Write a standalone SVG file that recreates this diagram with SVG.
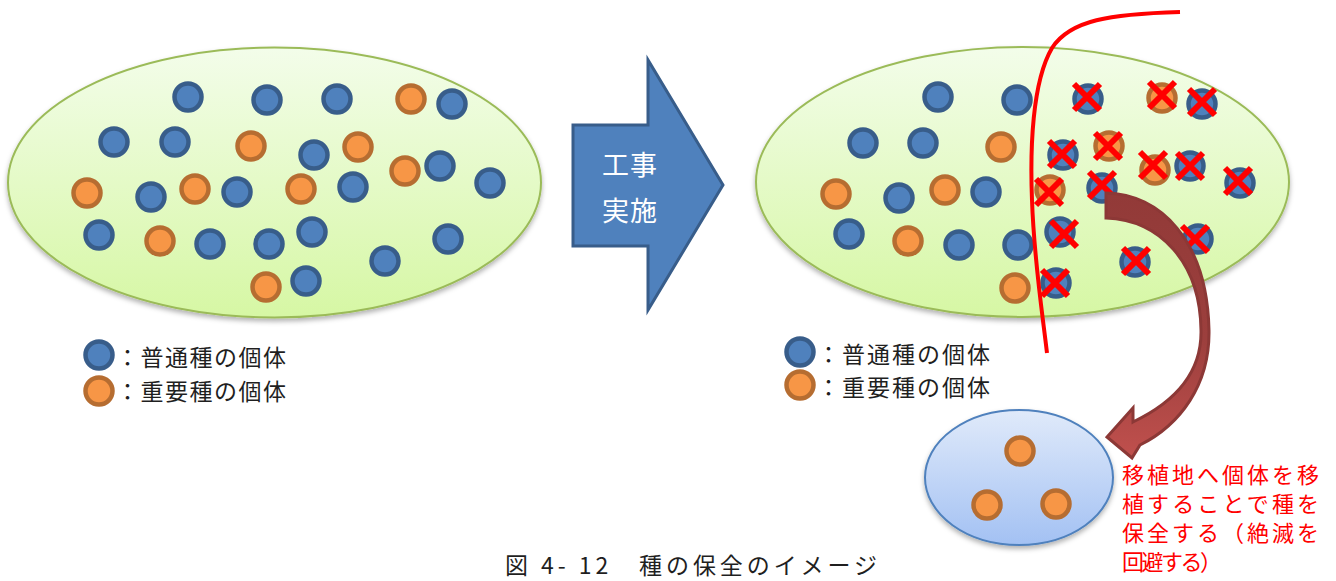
<svg xmlns="http://www.w3.org/2000/svg" width="1336" height="581" viewBox="0 0 1336 581">
<defs>
<linearGradient id="gGreen" x1="0" y1="0" x2="0" y2="1"><stop offset="0" stop-color="#F3FDEA"/><stop offset="1" stop-color="#D6F7A4"/></linearGradient>
<linearGradient id="gBlue" x1="0" y1="0" x2="0" y2="1"><stop offset="0" stop-color="#E0EAFA"/><stop offset="1" stop-color="#A3C1F3"/></linearGradient>
<linearGradient id="gBrown" x1="0" y1="0" x2="0" y2="1"><stop offset="0" stop-color="#923A38"/><stop offset="0.55" stop-color="#9C3F3D"/><stop offset="1" stop-color="#C0504D"/></linearGradient>
<filter id="sh" x="-5%" y="-5%" width="110%" height="115%"><feDropShadow dx="0" dy="3" stdDeviation="2.5" flood-color="#000" flood-opacity="0.3"/></filter>
</defs>
<style>
.b{fill:#4F81BD;stroke:#385D8A;stroke-width:4.5}
.o{fill:#F79646;stroke:#B66D31;stroke-width:4.5}
.x{stroke:#FF0000;stroke-width:6;fill:none}
.jp{font-family:"Noto Sans CJK JP","Noto Sans CJK SC",sans-serif}
.lg{font-size:23px;fill:#1F1F1F}
</style>

<g id="before">
<ellipse cx="274.5" cy="182.5" rx="266.5" ry="135" fill="url(#gGreen)" stroke="#9BBB59" stroke-width="2" filter="url(#sh)"/>
<g>
<circle class="b" cx="188" cy="97" r="13.5"/>
<circle class="b" cx="267" cy="100" r="13.5"/>
<circle class="b" cx="337" cy="99" r="13.5"/>
<circle class="o" cx="411" cy="99" r="13.5"/>
<circle class="b" cx="452" cy="104" r="13.5"/>
<circle class="b" cx="114" cy="142" r="13.5"/>
<circle class="b" cx="175" cy="142" r="13.5"/>
<circle class="o" cx="251" cy="146" r="13.5"/>
<circle class="b" cx="314" cy="155" r="13.5"/>
<circle class="o" cx="358" cy="147" r="13.5"/>
<circle class="o" cx="405" cy="171" r="13.5"/>
<circle class="b" cx="440" cy="166" r="13.5"/>
<circle class="b" cx="490" cy="183" r="13.5"/>
<circle class="o" cx="87" cy="193" r="13.5"/>
<circle class="b" cx="151" cy="197" r="13.5"/>
<circle class="o" cx="195" cy="189" r="13.5"/>
<circle class="b" cx="237" cy="192" r="13.5"/>
<circle class="o" cx="301" cy="189" r="13.5"/>
<circle class="b" cx="353" cy="187" r="13.5"/>
<circle class="b" cx="99" cy="235" r="13.5"/>
<circle class="o" cx="160" cy="241" r="13.5"/>
<circle class="b" cx="210" cy="244" r="13.5"/>
<circle class="b" cx="269" cy="244" r="13.5"/>
<circle class="b" cx="312" cy="232" r="13.5"/>
<circle class="b" cx="385" cy="261" r="13.5"/>
<circle class="b" cx="448" cy="239" r="13.5"/>
<circle class="o" cx="266" cy="287" r="13.5"/>
<circle class="b" cx="306" cy="281" r="13.5"/>
</g>
</g>

<g id="legend-left">
<circle class="b" cx="99" cy="355" r="13.5"/>
<circle class="o" cx="99" cy="391" r="13.5"/>
<text class="jp lg" x="116" y="366" textLength="170" lengthAdjust="spacing">：普通種の個体</text>
<text class="jp lg" x="116" y="400" textLength="170" lengthAdjust="spacing">：重要種の個体</text>
</g>

<g id="construction-arrow">
<path d="M573,125 L648,125 L648,60 L723,185 L648,310 L648,246 L573,246 Z" fill="#4F81BD" stroke="#385D8A" stroke-width="3" stroke-linejoin="miter"/>
<text class="jp" x="630" y="175" font-size="27" fill="#FFFFFF" text-anchor="middle" letter-spacing="1">工事</text>
<text class="jp" x="630" y="221" font-size="27" fill="#FFFFFF" text-anchor="middle" letter-spacing="1">実施</text>
</g>

<g id="after">
<ellipse cx="1022.5" cy="182" rx="266.5" ry="135" fill="url(#gGreen)" stroke="#9BBB59" stroke-width="2" filter="url(#sh)"/>
<g>
<circle class="b" cx="938" cy="97" r="13.5"/>
<circle class="b" cx="1017" cy="100" r="13.5"/>
<circle class="b" cx="863" cy="143" r="13.5"/>
<circle class="b" cx="923" cy="143" r="13.5"/>
<circle class="o" cx="1001" cy="147" r="13.5"/>
<circle class="o" cx="836" cy="194" r="13.5"/>
<circle class="b" cx="899" cy="198" r="13.5"/>
<circle class="o" cx="945" cy="190" r="13.5"/>
<circle class="b" cx="986" cy="192" r="13.5"/>
<circle class="b" cx="849" cy="234" r="13.5"/>
<circle class="o" cx="908" cy="241" r="13.5"/>
<circle class="b" cx="959" cy="245" r="13.5"/>
<circle class="b" cx="1018" cy="245" r="13.5"/>
<circle class="o" cx="1015" cy="288" r="13.5"/>
<circle class="b" cx="1088" cy="99" r="13.5"/>
<circle class="o" cx="1162" cy="98" r="13.5"/>
<circle class="b" cx="1202" cy="104" r="13.5"/>
<circle class="b" cx="1063" cy="155" r="13.5"/>
<circle class="o" cx="1109" cy="146" r="13.5"/>
<circle class="o" cx="1155" cy="170" r="13.5"/>
<circle class="b" cx="1190" cy="166" r="13.5"/>
<circle class="b" cx="1240" cy="183" r="13.5"/>
<circle class="o" cx="1050" cy="190" r="13.5"/>
<circle class="b" cx="1102" cy="188" r="13.5"/>
<circle class="b" cx="1060" cy="232" r="13.5"/>
<circle class="b" cx="1198" cy="239" r="13.5"/>
<circle class="b" cx="1135" cy="262" r="13.5"/>
<circle class="b" cx="1056" cy="283" r="13.5"/>
</g>
<g class="x">
<path d="M1074,84 L1100,110 M1100,84 L1074,110"/>
<path d="M1149,82 L1175,108 M1175,82 L1149,108"/>
<path d="M1189,89 L1215,115 M1215,89 L1189,115"/>
<path d="M1049,141 L1075,167 M1075,141 L1049,167"/>
<path d="M1095,133 L1121,159 M1121,133 L1095,159"/>
<path d="M1140,152 L1166,178 M1166,152 L1140,178"/>
<path d="M1177,153 L1203,179 M1203,153 L1177,179"/>
<path d="M1225,168 L1251,194 M1251,168 L1225,194"/>
<path d="M1036,179 L1062,205 M1062,179 L1036,205"/>
<path d="M1089,172 L1115,198 M1115,172 L1089,198"/>
<path d="M1051,221 L1077,247 M1077,221 L1051,247"/>
<path d="M1182,226 L1208,252 M1208,226 L1182,252"/>
<path d="M1123,248 L1149,274 M1149,248 L1123,274"/>
<path d="M1042,270 L1068,296 M1068,270 L1042,296"/>
</g>
</g>

<g id="boundary">
<path d="M1180,12 C1110,14 1070,20 1052,48 C1032,82 1030,150 1032,200 C1034,260 1042,310 1047,353" fill="none" stroke="#FF0000" stroke-width="4"/>
</g>

<g id="legend-right">
<circle class="b" cx="800" cy="352" r="13.5"/>
<circle class="o" cx="800" cy="385" r="13.5"/>
<text class="jp lg" x="817" y="363" textLength="173" lengthAdjust="spacing">：普通種の個体</text>
<text class="jp lg" x="817" y="396" textLength="173" lengthAdjust="spacing">：重要種の個体</text>
</g>

<g id="transplant-site">
<ellipse cx="1019" cy="477.5" rx="94" ry="67.5" fill="url(#gBlue)" stroke="#4F81BD" stroke-width="2" filter="url(#sh)"/>
<circle class="o" cx="1020" cy="451" r="13.5"/>
<circle class="o" cx="987" cy="505" r="13.5"/>
<circle class="o" cx="1056" cy="504" r="13.5"/>
</g>

<g id="connectors">
<path d="M1106,193 C1160,194 1207,240 1209,330 C1210,385 1180,425 1140,445 L1132,458 L1107,437 L1133,408 L1133,422 C1175,402 1202,372 1201,330 C1200,262 1160,220 1106,218 Z" fill="url(#gBrown)" stroke="#8C3836" stroke-width="3" stroke-linejoin="miter"/>
</g>

<g id="note">
<text class="jp" font-size="22" fill="#FF0000">
<tspan x="1122" y="483" textLength="197" lengthAdjust="spacing">移植地へ個体を移</tspan>
<tspan x="1122" y="512" textLength="197" lengthAdjust="spacing">植することで種を</tspan>
<tspan x="1122" y="541" textLength="197" lengthAdjust="spacing">保全する（絶滅を</tspan>
<tspan x="1122" y="570" textLength="100" lengthAdjust="spacing">回避する）</tspan>
</text>
</g>

<g id="caption">
<text class="jp" x="505" y="574" font-size="23" fill="#1F1F1F" textLength="372" lengthAdjust="spacing">図 4- 12　種の保全のイメージ</text>
</g>
</svg>
